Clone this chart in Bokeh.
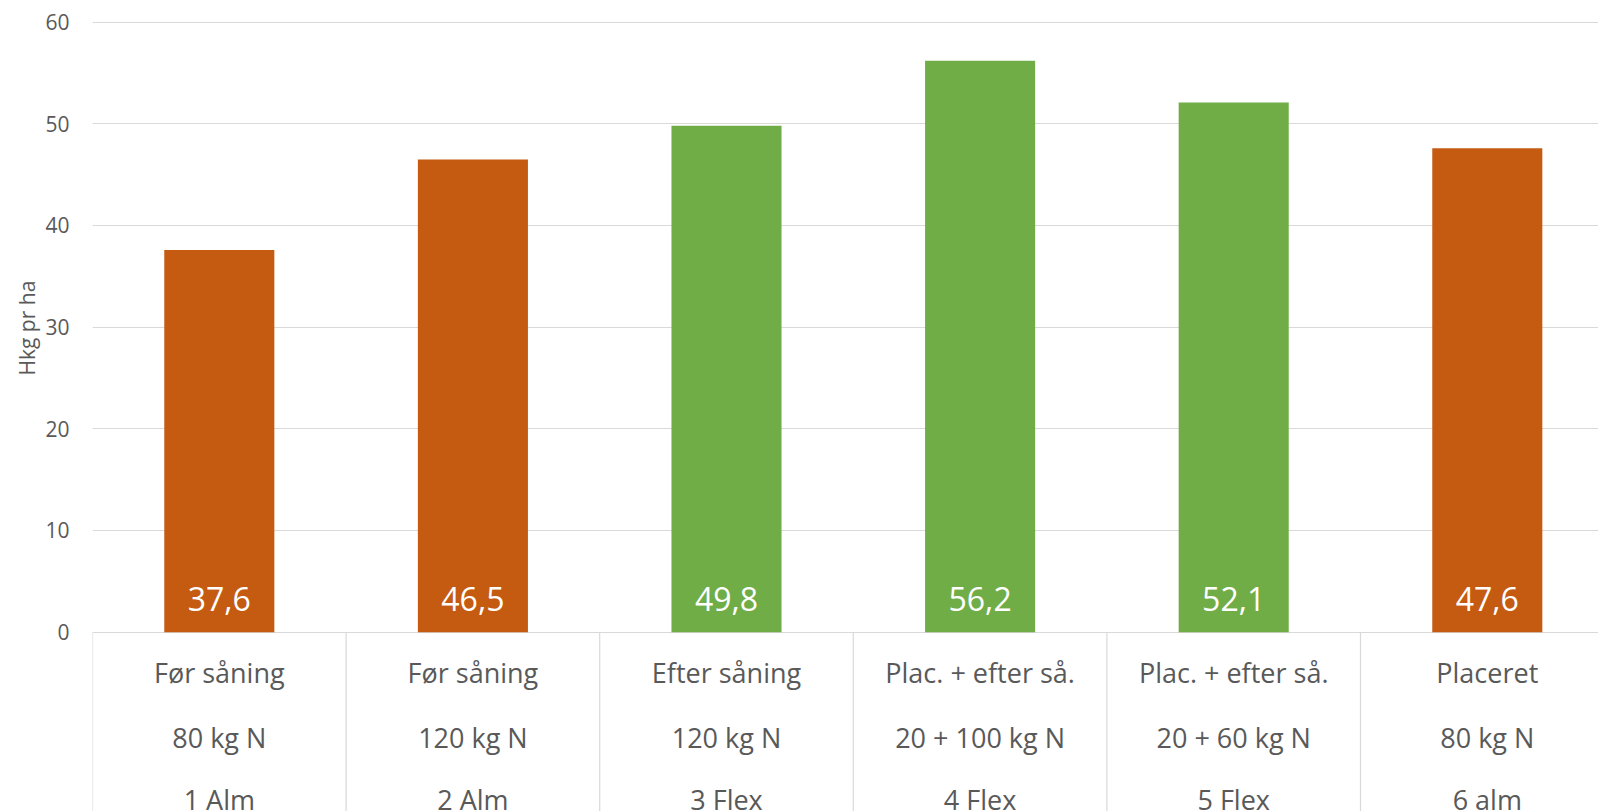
import numpy as np
from bokeh.plotting import figure
from bokeh.models import ColumnDataSource, Range1d, FixedTicker, Title
from bokeh.core.properties import value
from bokeh.embed import file_html
from bokeh.resources import INLINE

# ---- data ----
timing = ["Før såning", "Før såning", "Efter såning", "Plac. + efter så.", "Plac. + efter så.", "Placeret"]
dose = ["80 kg N", "120 kg N", "120 kg N", "20 + 100 kg N", "20 + 60 kg N", "80 kg N"]
treatment = ["1 Alm", "2 Alm", "3 Flex", "4 Flex", "5 Flex", "6 alm"]
yields = [37.6, 46.5, 49.8, 56.2, 52.1, 47.6]
product = ["Alm", "Alm", "Flex", "Flex", "Flex", "Alm"]
y_ticks = [0, 10, 20, 30, 40, 50, 60]

colors = {"Alm": "#C55A11", "Flex": "#70AD47"}
FONT = "Open Sans"
GRAY = "#595959"
GRID = "#D9D9D9"

n = len(yields)
xs = np.arange(n) + 0.5
src = ColumnDataSource(dict(
    x=xs, top=yields,
    color=[colors[g] for g in product],
    vlabel=[f"{v:.1f}".replace(".", ",") for v in yields],
    l1=timing, l2=dose, l3=treatment,
))

y_start, y_end = -17.64, 62.13
p = figure(width=1598, height=811, x_range=Range1d(0, 5.9385), y_range=Range1d(y_start, y_end),
           output_backend="svg", toolbar_location=None,
           min_border_left=92, min_border_right=0, min_border_top=0, min_border_bottom=0)
p.outline_line_color = None
p.xaxis.visible = False
p.xgrid.visible = False
p.ygrid.ticker = FixedTicker(ticks=y_ticks)
p.ygrid.grid_line_color = GRID
p.ygrid.grid_line_width = 1

ax = p.yaxis[0]
ax.ticker = FixedTicker(ticks=y_ticks)
ax.axis_line_color = None
ax.major_tick_line_color = None
ax.minor_tick_line_color = None
ax.major_tick_out = 0
ax.major_tick_in = 0
ax.major_label_standoff = 23
ax.major_label_text_font = FONT
ax.major_label_text_font_size = "21px"
ax.major_label_text_color = GRAY

# separators between categories below the axis
p.segment(x0=np.arange(n + 1), x1=np.arange(n + 1), y0=0, y1=y_start, line_color=GRID, line_width=1.2)

p.vbar(x="x", top="top", bottom=0, width=0.434, fill_color="color", line_color=None, source=src)

p.text(x="x", y=3.3, text="vlabel", source=src, text_color="white", text_font=value(FONT),
       text_font_size="32px", text_align="center", text_baseline="middle")

for col, yy in (("l1", -3.96), ("l2", -10.4), ("l3", -16.5)):
    p.text(x="x", y=yy, text=col, source=src, text_color=GRAY, text_font=value(FONT),
           text_font_size="27px", text_align="center", text_baseline="middle")

p.add_layout(Title(text="Hkg pr ha", align="left", offset=436, vertical_align="top", standoff=0,
                   text_font=FONT, text_font_size="21px", text_font_style="normal",
                   text_color=GRAY), "left")

open("out.html", "w").write(file_html(p, INLINE))
